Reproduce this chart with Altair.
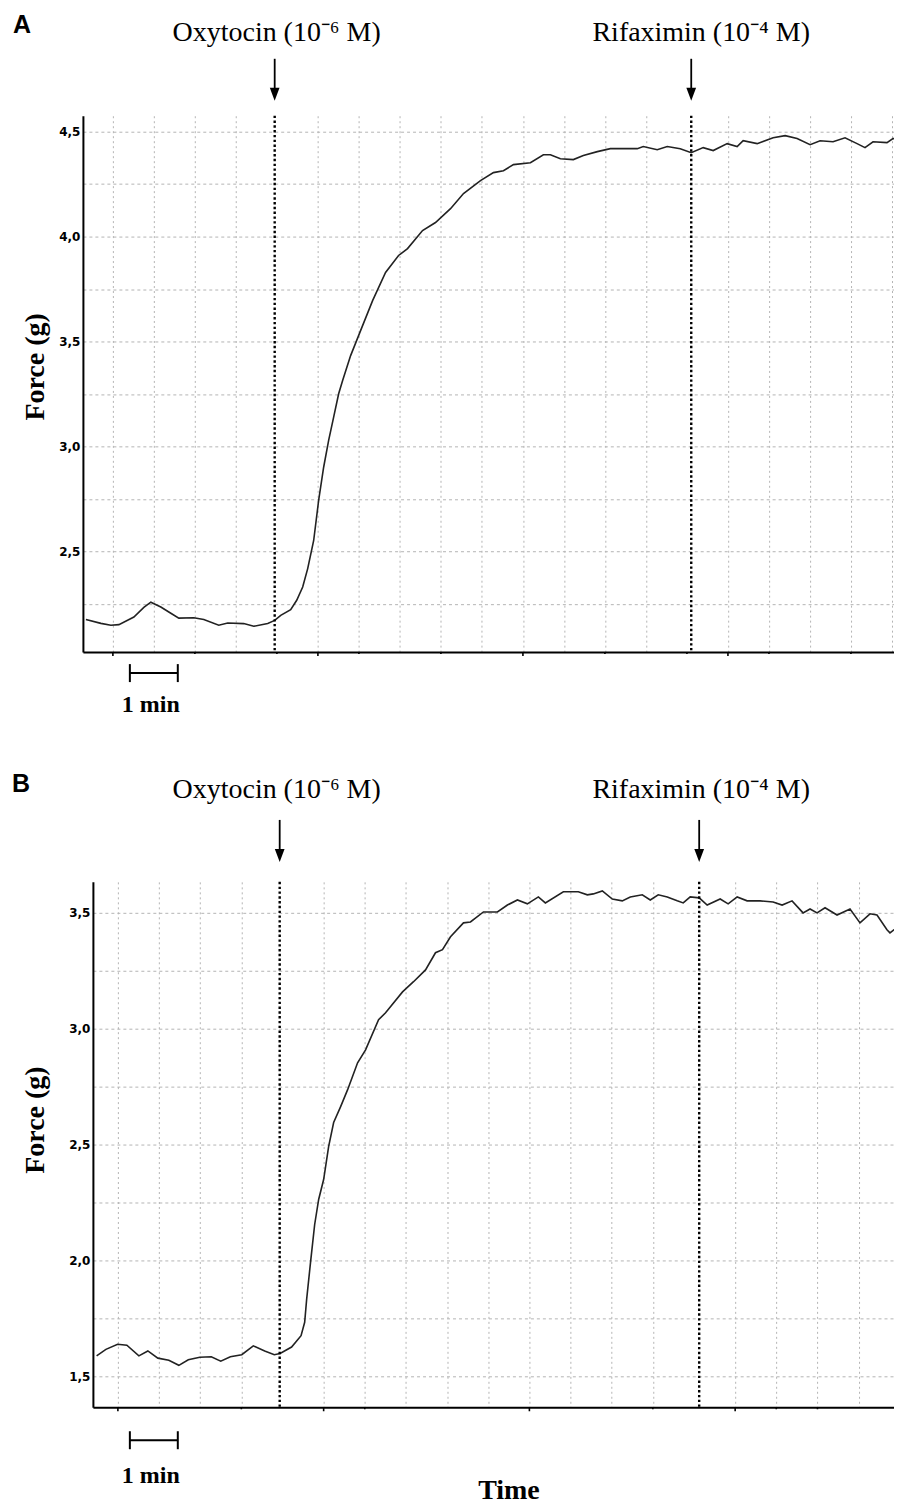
import altair as alt
import pandas as pd

# ---------------- data (time in chart grid divisions, force in g) ----------------
a_time = [-0.658, -0.292, -0.049, 0.146, 0.512, 0.755, 0.926, 1.169, 1.413, 1.608,
          1.973, 2.217, 2.582, 2.801, 3.191, 3.435, 3.776, 3.946, 4.093, 4.336,
          4.483, 4.629, 4.751, 4.897, 5.018, 5.140, 5.262, 5.384, 5.506, 5.603,
          5.798, 6.041, 6.334, 6.650, 6.967, 7.186, 7.552, 7.868, 8.234, 8.551,
          8.965, 9.281, 9.525, 9.769, 10.183, 10.499, 10.670, 10.914, 11.230, 11.474,
          11.815, 12.132, 12.789, 12.935, 13.276, 13.520, 13.837, 14.105, 14.397, 14.641,
          14.982, 15.225, 15.371, 15.713, 16.102, 16.395, 16.687, 17.004, 17.247, 17.564,
          17.856, 18.149, 18.343, 18.538, 18.879, 19.025, 19.196]
a_force = [2.175, 2.157, 2.148, 2.151, 2.187, 2.233, 2.258, 2.235, 2.205, 2.182,
           2.184, 2.175, 2.148, 2.159, 2.156, 2.143, 2.156, 2.171, 2.195, 2.222,
           2.267, 2.330, 2.418, 2.552, 2.743, 2.901, 3.029, 3.140, 3.251, 3.314,
           3.433, 3.552, 3.695, 3.829, 3.910, 3.943, 4.029, 4.067, 4.133, 4.205,
           4.267, 4.305, 4.314, 4.343, 4.352, 4.390, 4.390, 4.371, 4.367, 4.386,
           4.405, 4.419, 4.419, 4.429, 4.414, 4.429, 4.419, 4.400, 4.424, 4.410,
           4.443, 4.429, 4.457, 4.443, 4.471, 4.481, 4.467, 4.438, 4.457, 4.452,
           4.471, 4.443, 4.424, 4.452, 4.448, 4.467, 4.467]

b_time = [-0.517, -0.291, -0.007, 0.218, 0.510, 0.728, 0.971, 1.238, 1.481, 1.711,
          1.990, 2.269, 2.500, 2.733, 3.010, 3.291, 3.568, 3.801, 3.942, 4.221,
          4.451, 4.539, 4.587, 4.684, 4.782, 4.879, 5.000, 5.121, 5.243, 5.413,
          5.583, 5.825, 6.019, 6.335, 6.505, 6.917, 7.184, 7.476, 7.718, 7.888,
          8.083, 8.398, 8.568, 8.883, 9.223, 9.466, 9.709, 9.951, 10.218, 10.388,
          10.825, 11.189, 11.408, 11.553, 11.772, 12.015, 12.257, 12.451, 12.743, 12.937,
          13.131, 13.350, 13.592, 13.738, 13.908, 14.126, 14.320, 14.636, 14.830, 15.049,
          15.291, 15.607, 15.922, 16.141, 16.383, 16.650, 16.820, 16.990, 17.184, 17.476,
          17.791, 18.034, 18.277, 18.447, 18.689, 18.762, 18.956]
b_force = [1.588, 1.616, 1.638, 1.634, 1.588, 1.609, 1.578, 1.569, 1.547, 1.571,
           1.582, 1.584, 1.565, 1.584, 1.593, 1.631, 1.609, 1.593, 1.598, 1.626,
           1.675, 1.733, 1.832, 1.996, 2.155, 2.263, 2.349, 2.491, 2.595, 2.664,
           2.737, 2.853, 2.909, 3.039, 3.069, 3.159, 3.203, 3.254, 3.328, 3.341,
           3.397, 3.457, 3.461, 3.504, 3.504, 3.534, 3.556, 3.539, 3.569, 3.543,
           3.591, 3.591, 3.578, 3.582, 3.595, 3.560, 3.552, 3.569, 3.578, 3.556,
           3.578, 3.569, 3.552, 3.543, 3.569, 3.565, 3.534, 3.560, 3.539, 3.569,
           3.552, 3.552, 3.547, 3.534, 3.552, 3.500, 3.517, 3.500, 3.522, 3.491,
           3.517, 3.457, 3.496, 3.491, 3.427, 3.414, 3.440]

event_names = ["Oxytocin (10⁻⁶ M)", "Rifaximin (10⁻⁴ M)"]
a_event_time = [3.946, 14.105]
b_event_time = [3.932, 14.126]

a_y_ticks = [2.25, 2.5, 2.75, 3.0, 3.25, 3.5, 3.75, 4.0, 4.25, 4.5]
b_y_ticks = [1.5, 1.75, 2.0, 2.25, 2.5, 2.75, 3.0, 3.25, 3.5]

a_grid = [0, 1, 2, 3, 5, 6, 7, 8, 9, 10, 11, 12, 13, 15, 16, 17, 18, 19]
b_grid = [0, 1, 2, 3, 5, 6, 7, 8, 9, 10, 11, 12, 13, 15, 16, 17, 18]

a_major = [0, 5, 10, 15]
a_minor = [2, 4, 6, 8, 12, 14, 16, 18]
b_major = [0, 5, 10, 15]
b_minor = [3, 6, 13, 16, 17]

a_scalebar = [0.414, 1.583]   # 1 min
b_scalebar = [0.291, 1.456]   # 1 min

SERIF = "Liberation Serif"
SANS = "Liberation Sans"
GRID = "#b4b4b4"


def panel(letter, t, f, xdom, xrange, ydom, yticks, grid, ev_t, ev_dx, major, minor, bar,
          W, H, g, time_title):
    line_df = pd.DataFrame({"t": t, "f": f})
    xs = alt.Scale(domain=xdom, range=xrange, nice=False, zero=False)
    ys = alt.Scale(domain=ydom, nice=False, zero=False)

    extra = {}
    if time_title:
        extra = {"titleFont": SERIF, "titleFontSize": 28, "titleFontWeight": "bold",
                 "titleColor": "black", "titleX": g["timex"], "titleY": g["timey"],
                 "titleBaseline": "middle", "titleAlign": "center"}
    x_axis = alt.Axis(values=grid, labels=False, ticks=False, domainColor="black",
                      domainWidth=2, gridColor=GRID, gridDash=[2, 3], gridWidth=1,
                      title=time_title if time_title else None, **extra)
    y_axis = alt.Axis(values=yticks,
                      labelExpr="datum.value % 0.5 == 0 ? replace(format(datum.value, '.1f'), '.', ',') : ''",
                      ticks=False, domainColor="black", domainWidth=2, gridColor=GRID,
                      gridDash=[3, 3], gridWidth=1, labelFont="DejaVu Sans",
                      labelFontWeight="bold", labelFontSize=12, labelColor="black",
                      labelPadding=3, title="Force (g)", titleFont=SERIF, titleFontSize=28,
                      titleFontWeight="bold", titleColor="black", titleAngle=270,
                      titleX=g["titlex"], titleY=g["titley"], titleBaseline="middle",
                      titleAlign="center", offset=g["yoffset"])

    def X(field):
        return alt.X(field, type="quantitative", scale=xs, axis=x_axis)

    trace = alt.Chart(line_df).mark_line(color="#222222", strokeWidth=1.6, clip=True).encode(
        x=X("t"),
        y=alt.Y("f:Q", scale=ys, axis=y_axis),
    )

    ev_df = pd.DataFrame({"t": ev_t, "name": event_names, "i": [0, 1]})
    ev_lines = alt.Chart(ev_df).mark_rule(color="black", strokeWidth=2.4,
                                          strokeDash=[2.4, 2.4]).encode(x=X("t"))
    shafts = alt.Chart(ev_df).mark_rule(color="black", strokeWidth=1.8).encode(
        x=X("t"), y=alt.value(g["arrow_top"]), y2=alt.value(g["arrow_bot"] - 8))
    heads = alt.Chart(ev_df).mark_point(shape="M-0.75,-1L0.75,-1L0,1Z", filled=True,
                                        color="black", opacity=1, size=169, strokeWidth=0).encode(
        x=X("t"), y=alt.value(g["arrow_bot"] - 6.5))
    labels = []
    for i in range(2):
        labels.append(
            alt.Chart(ev_df).transform_filter(alt.datum.i == i).mark_text(
                font=SERIF, fontSize=28, color="black", baseline="middle", align="center",
                dx=ev_dx[i]).encode(
                x=X("t"), y=alt.value(g["label_y"]), text="name:N"))

    tick_df = pd.DataFrame({"t": major + minor,
                            "kind": ["major"] * len(major) + ["minor"] * len(minor)})
    maj_ticks = alt.Chart(tick_df).transform_filter(alt.datum.kind == "major").mark_rule(
        color="black", strokeWidth=1.6).encode(
        x=X("t"), y=alt.value(H), y2=alt.value(H + 4))
    min_ticks = alt.Chart(tick_df).transform_filter(alt.datum.kind == "minor").mark_rule(
        color="black", strokeWidth=1.6).encode(
        x=X("t"), y=alt.value(H), y2=alt.value(H + 2))

    bar_df = pd.DataFrame({"s": [bar[0]], "e": [bar[1]], "lab": ["1 min"]})
    bar_h = alt.Chart(bar_df).mark_rule(color="black", strokeWidth=2).encode(
        x=X("s"), x2="e:Q", y=alt.value(H + g["bar"]))
    cap_df = pd.DataFrame({"t": bar})
    caps = alt.Chart(cap_df).mark_rule(color="black", strokeWidth=2).encode(
        x=X("t"), y=alt.value(H + g["bar"] - 9), y2=alt.value(H + g["bar"] + 9))
    bar_txt = alt.Chart(bar_df).transform_calculate(m="(datum.s + datum.e) / 2").mark_text(
        font=SERIF, fontSize=24, fontWeight="bold", color="black", baseline="middle",
        align="center", dx=-3).encode(
        x=X("m"), y=alt.value(H + g["bar_txt"]), text="lab:N")

    letter_mark = alt.Chart(bar_df).mark_text(
        text=letter, font=SANS, fontSize=25, fontWeight="bold", color="black",
        baseline="middle", align="center").encode(
        x=alt.value(g["letter_x"]), y=alt.value(g["letter_y"]))

    return alt.layer(trace, ev_lines, shafts, heads, *labels, maj_ticks, min_ticks,
                     bar_h, caps, bar_txt, letter_mark).properties(width=W, height=H)


geo_a = dict(titlex=-47, titley=251, arrow_top=-57, arrow_bot=-15, label_y=-83,
             bar=21, bar_txt=590 - 537, letter_x=-61, letter_y=-91, timex=0, timey=0,
             yoffset=0)
geo_b = dict(titlex=-57, titley=238, arrow_top=-62, arrow_bot=-20, label_y=-92,
             bar=33, bar_txt=595 - 526, letter_x=-62, letter_y=-98, timex=426, timey=83,
             yoffset=-10)

pa = panel("A", a_time, a_force, [-0.731, 19.05], [0, 812], [2.02, 4.576], a_y_ticks, a_grid,
           a_event_time, [2, 10], a_major, a_minor, a_scalebar, 812, 537, geo_a, None)
pb = panel("B", b_time, b_force, [-0.607, 18.86], [10, 812], [1.366, 3.634], b_y_ticks, b_grid,
           b_event_time, [-3, 2], b_major, b_minor, b_scalebar, 812, 526, geo_b, "Time")

chart = alt.concat(pa, pb, columns=1, spacing=55).properties(
    padding={"left": 3, "top": 4, "right": 0, "bottom": 0}, background="white"
).configure_view(stroke=None)

chart.save("out.html", embed_options={"renderer": "svg", "actions": False})
